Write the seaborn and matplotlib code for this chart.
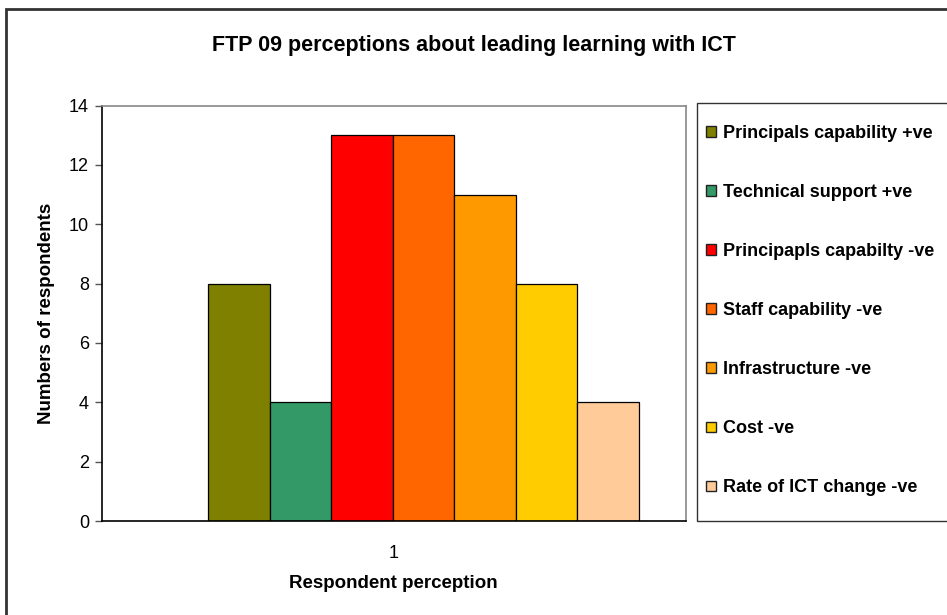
import matplotlib
matplotlib.use("Agg")
import matplotlib.pyplot as plt
from matplotlib.patches import Rectangle, Patch
import seaborn as sns
import pandas as pd

series = ["Principals capability +ve", "Technical support +ve", "Principapls capabilty -ve",
          "Staff capability -ve", "Infrastructure -ve", "Cost -ve", "Rate of ICT change -ve"]
values = [8, 4, 13, 13, 11, 8, 4]
colors = ["#808000", "#339966", "#FF0000", "#FF6600", "#FF9900", "#FFCC00", "#FFCC99"]
category = ["1"] * len(series)
yticks = [0, 2, 4, 6, 8, 10, 12, 14]

sns.set_theme(style="white")
plt.rcParams["font.family"] = ["Liberation Sans", "DejaVu Sans"]
plt.rcParams.update({"text.color": "black", "axes.labelcolor": "black",
                     "xtick.color": "black", "ytick.color": "black"})

W, H = 947, 615
fig = plt.figure(figsize=(W / 100, H / 100), dpi=100)
fig.patch.set_facecolor("white")

def fx(px):
    return px / W

def fy(py):
    return 1 - py / H

# outer chart border
fig.patches.append(Rectangle((fx(6), fy(640)), fx(960) - fx(6), fy(9) - fy(640),
                             transform=fig.transFigure, fill=False, edgecolor="#333333",
                             linewidth=2, zorder=0))

ax = fig.add_axes([fx(101.5), fy(521), fx(686) - fx(101.5), fy(105.5) - fy(521)])
df = pd.DataFrame({"cat": category, "series": series, "value": values})
sns.barplot(data=df, x="cat", y="value", hue="series", hue_order=series,
            palette=colors, saturation=1, width=0.737, edgecolor="black",
            linewidth=0.9, legend=False, ax=ax)

# Excel leaves an empty slot before the first bar: group sits right of the label
off = 0.051
ax.set_xlim(-0.5 - off, 0.5 - off)
ax.set_ylim(0, 14)
ax.set_yticks(yticks)
ax.set_yticklabels([str(t) for t in yticks], fontsize=13)
ax.set_xticks([-off])
ax.set_xticklabels(["1"], fontsize=13)
ax.set_xticks([-0.5 - off, 0.5 - off], minor=True)
ax.tick_params(axis="x", which="major", length=0, pad=17, labelcolor="black")
ax.tick_params(axis="x", which="minor", length=5, width=1, color="#555555", direction="out")
ax.tick_params(axis="y", which="major", length=5, width=1, color="#555555", direction="out",
               left=True, pad=4, labelcolor="black")
for s in ["left", "bottom"]:
    ax.spines[s].set_color("black")
    ax.spines[s].set_linewidth(1.2)
for s in ["top", "right"]:
    ax.spines[s].set_color("#888888")
    ax.spines[s].set_linewidth(1.2)
ax.grid(False)
ax.set_xlabel("Respondent perception", fontsize=13.5, fontweight="bold", labelpad=10,
              color="black")
ax.set_ylabel("Numbers of respondents", fontsize=13.5, fontweight="bold", labelpad=10,
              color="black")

fig.text(fx(474), fy(45), "FTP 09 perceptions about leading learning with ICT",
         ha="center", va="center", fontsize=15.5, fontweight="bold", color="black")

# legend box
legbox = Rectangle((fx(697), fy(521)), fx(960) - fx(697), fy(103) - fy(521))
fig.patches.append(legbox)
legbox.set(transform=fig.transFigure, fill=False, edgecolor="#333333", linewidth=1, zorder=1)
handles = [Patch(facecolor=c, edgecolor="#222222", linewidth=1) for c in colors]
leg = fig.legend(handles, series, loc="upper left", bbox_to_anchor=(fx(706), fy(125)),
                 frameon=False, prop={"weight": "bold", "size": 13},
                 handlelength=0.55, handleheight=0.55, handletextpad=0.4,
                 labelspacing=2.33, borderpad=0, borderaxespad=0)
for t in leg.get_texts():
    t.set_color("black")

fig.savefig("out.png", dpi=100)
